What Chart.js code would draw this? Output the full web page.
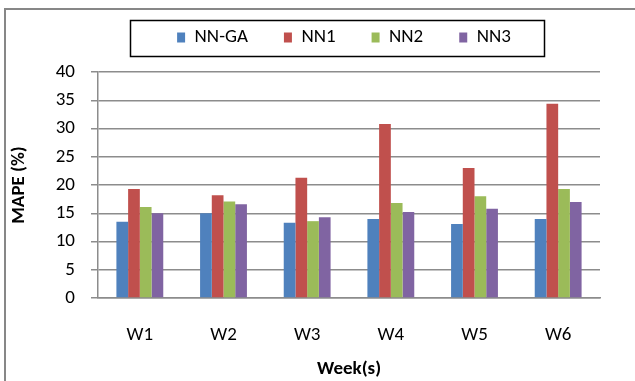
<!DOCTYPE html>
<html>
<head>
<meta charset="utf-8">
<script src="https://cdn.jsdelivr.net/npm/chart.js@4.4.1/dist/chart.umd.min.js"></script>
<style>
  body { margin: 0; background: #fff; }
  #wrap { position: relative; width: 635px; height: 381px; }
</style>
</head>
<body>
<div id="wrap"><canvas id="mapeChart" width="635" height="381"></canvas></div>
<script>
const weeks = ['W1', 'W2', 'W3', 'W4', 'W5', 'W6'];
const nnGa = [13.5, 15.0, 13.3, 14.0, 13.1, 14.0];
const nn1 = [19.3, 18.2, 21.3, 30.8, 23.0, 34.4];
const nn2 = [16.1, 17.1, 13.6, 16.8, 18.0, 19.3];
const nn3 = [15.0, 16.6, 14.3, 15.2, 15.8, 17.0];

const fontFamily = 'Carlito, Calibri, Lato, sans-serif';
const fontSize = 19;
const gridColor = '#8c8c8c';

// outer frame + box round the legend, like the Excel chart
const chartFrame = {
    id: 'chartFrame',
    afterLayout(chart) {
        // pull the legend items up into the boxed area
        const lg = chart.legend;
        lg.top -= 15; lg.bottom -= 15;
        lg.left -= 5; lg.right -= 5;
    },
    beforeDraw(chart) {
        const ctx = chart.ctx;
        ctx.save();
        ctx.strokeStyle = '#878787';
        ctx.lineWidth = 2;
        ctx.strokeRect(5, 9, 700, 500);
        ctx.restore();
    },
    afterDraw(chart) {
        const ctx = chart.ctx;
        ctx.save();
        ctx.strokeStyle = '#000';
        ctx.lineWidth = 1.5;
        ctx.strokeRect(130.5, 20.5, 414, 36);
        ctx.restore();
    }
};

function makeSet(label, data, color) {
    return { label, data, backgroundColor: color, borderWidth: 0 };
}

const ctx = document.getElementById('mapeChart').getContext('2d');
new Chart(ctx, {
    type: 'bar',
    data: {
        labels: weeks,
        datasets: [
            makeSet('NN-GA', nnGa, '#4F81BD'),
            makeSet('NN1', nn1, '#C0504D'),
            makeSet('NN2', nn2, '#9BBB59'),
            makeSet('NN3', nn3, '#8064A2')
        ]
    },
    options: {
        responsive: false,
        animation: false,
        layout: { padding: { top: 7, left: 8, right: 35, bottom: 0 } },
        datasets: { bar: { barPercentage: 1, categoryPercentage: 0.56 } },
        plugins: {
            legend: {
                position: 'top',
                fullSize: false,
                labels: {
                    boxWidth: 8,
                    boxHeight: 10,
                    padding: 36,
                    color: '#000',
                    font: { family: fontFamily, size: fontSize }
                }
            },
            tooltip: { enabled: false }
        },
        scales: {
            x: {
                grid: { display: false, drawTicks: false, tickLength: 0 },
                border: { display: true, color: gridColor, width: 1.5 },
                ticks: { color: '#000', padding: 26, font: { family: fontFamily, size: fontSize } },
                title: {
                    display: true,
                    text: 'Week(s)',
                    color: '#000',
                    padding: { top: 4, bottom: 0 },
                    font: { family: fontFamily, size: fontSize, weight: 'bold' }
                },
                afterFit(scale) { scale.height = 83; }
            },
            y: {
                min: 0,
                max: 40,
                ticks: { stepSize: 5, color: '#000', padding: 16, font: { family: fontFamily, size: fontSize } },
                grid: { color: gridColor, lineWidth: 1.5, tickLength: 7, drawTicks: true },
                border: { display: true, color: gridColor, width: 1.5 },
                title: {
                    display: true,
                    text: 'MAPE (%)',
                    color: '#000',
                    padding: { top: 0, bottom: 4 },
                    font: { family: fontFamily, size: fontSize, weight: 'bold' }
                },
                afterFit(scale) { scale.width = 90; }
            }
        }
    },
    plugins: [chartFrame]
});
</script>
</body>
</html>
